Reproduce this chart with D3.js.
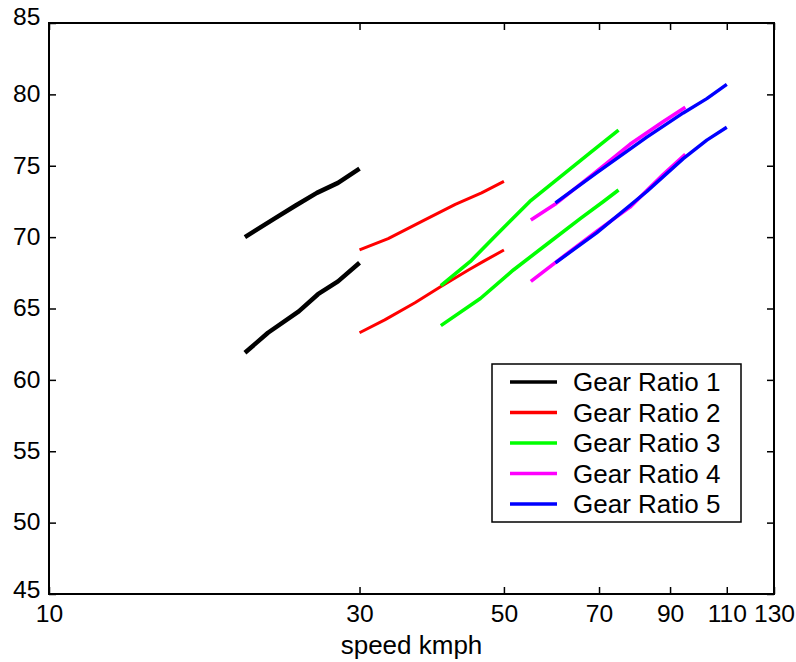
<!DOCTYPE html>
<html>
<head>
<meta charset="utf-8">
<script src="https://cdn.jsdelivr.net/npm/d3@7"></script>
<style>
  html, body { margin: 0; padding: 0; background: #fff; }
  svg { display: block; font-family: "Liberation Sans", Arial, Helvetica, sans-serif; }
</style>
</head>
<body>
<svg id="chart" width="796" height="662"></svg>
<script>
// Sound level vs. vehicle speed, two traces per gear ratio (speed kmph, level)
const gear1Upper = [[20,70.0],[22.2,71.3],[23.9,72.2],[25.8,73.1],[27.8,73.8],[30,74.8]];
const gear1Lower = [[20,61.9],[21.7,63.3],[24.2,64.8],[25.9,66.0],[27.8,66.9],[30,68.2]];
const gear2Upper = [[30,69.1],[33.2,69.9],[37.4,71.1],[42.1,72.3],[46.2,73.1],[50,73.9]];
const gear2Lower = [[30,63.3],[32.8,64.2],[36.5,65.4],[39.9,66.5],[44.1,67.7],[46.5,68.3],[50,69.1]];
const gear3Upper = [[40,66.6],[44.4,68.3],[48.8,70.2],[54.8,72.5],[61.7,74.4],[67.8,75.9],[75,77.5]];
const gear3Lower = [[40,63.8],[46,65.7],[51.7,67.7],[58.2,69.5],[65.5,71.3],[71.1,72.5],[75,73.3]];
const gear4Upper = [[55,71.2],[59.9,72.3],[69.4,74.6],[78.1,76.5],[87.9,78.1],[95,79.1]];
const gear4Lower = [[55,66.9],[59.9,68.2],[69.4,70.4],[78.1,72.1],[87.9,74.4],[95,75.8]];
const gear5Upper = [[60,72.4],[69.4,74.5],[82.9,77.0],[94.3,78.7],[102.5,79.7],[110,80.7]];
const gear5Lower = [[60,68.2],[69.4,70.3],[82.9,73.2],[94.3,75.5],[102.5,76.8],[110,77.7]];

const seriesNames = ["Gear Ratio 1","Gear Ratio 2","Gear Ratio 3","Gear Ratio 4","Gear Ratio 5"];
const seriesColors = ["#000000","#ff0000","#00ff00","#ff00ff","#0000ff"];
const seriesWidths = [4.5, 3, 3.6, 3.6, 3.4];
const seriesTraces = [
  [gear1Upper, gear1Lower],
  [gear2Upper, gear2Lower],
  [gear3Upper, gear3Lower],
  [gear4Upper, gear4Lower],
  [gear5Upper, gear5Lower]
];

const xTicks = [10, 30, 50, 70, 90, 110, 130];
const yTicks = [45, 50, 55, 60, 65, 70, 75, 80, 85];
const xLabel = "speed kmph";

const margin = {left: 49, top: 23, right: 22, bottom: 68};
const W = 796, H = 662;
const iw = W - margin.left - margin.right;
const ih = H - margin.top - margin.bottom;

const svg = d3.select("#chart");
const g = svg.append("g").attr("transform", `translate(${margin.left},${margin.top})`);

const x = d3.scaleLog().domain([10, 130]).range([0, iw]);
const y = d3.scaleLinear().domain([45, 85]).range([ih, 0]);

const tickLen = 7;
const tickFont = "23px";

function styleAxis(sel) {
  sel.select(".domain").remove();
  sel.selectAll(".tick line").attr("stroke", "#000").attr("stroke-width", 1.5);
  sel.selectAll(".tick text")
    .attr("fill", "#000")
    .style("font-size", tickFont)
    .attr("transform", "scale(1.07,1)");
}

// bottom axis with labels
g.append("g").attr("transform", `translate(0,${ih})`)
  .call(d3.axisBottom(x).tickValues(xTicks).tickFormat(d3.format("d"))
        .tickSizeInner(-tickLen).tickSizeOuter(0).tickPadding(12))
  .call(styleAxis);

// left axis with labels
const yAx = g.append("g")
  .call(d3.axisLeft(y).tickValues(yTicks).tickFormat(d3.format("d"))
        .tickSizeInner(-tickLen).tickSizeOuter(0).tickPadding(8))
  .call(styleAxis);
yAx.selectAll(".tick text").filter(d => d === 85).attr("dy", "0.05em");
yAx.selectAll(".tick text").filter(d => d === 45).attr("dy", "0.15em");

// top and right tick marks (no labels)
g.append("g")
  .call(d3.axisTop(x).tickValues(xTicks).tickFormat("").tickSizeInner(-tickLen).tickSizeOuter(0))
  .call(styleAxis);
g.append("g").attr("transform", `translate(${iw},0)`)
  .call(d3.axisRight(y).tickValues(yTicks).tickFormat("").tickSizeInner(-tickLen).tickSizeOuter(0))
  .call(styleAxis);

// frame
g.append("rect").attr("x", 0).attr("y", 0).attr("width", iw).attr("height", ih)
  .attr("fill", "none").attr("stroke", "#000").attr("stroke-width", 2);

// traces
const line = d3.line().x(d => x(d[0])).y(d => y(d[1]));
seriesTraces.forEach((traces, i) => {
  traces.forEach(tr => {
    g.append("path").datum(tr)
      .attr("d", line)
      .attr("fill", "none")
      .attr("stroke", seriesColors[i])
      .attr("stroke-width", seriesWidths[i])
      .attr("stroke-linejoin", "round");
  });
});

// x axis label
svg.append("text")
  .attr("x", margin.left + iw / 2)
  .attr("y", 654)
  .attr("text-anchor", "middle")
  .style("font-size", "26px")
  .attr("fill", "#000")
  .text(xLabel);

// legend
const lg = svg.append("g").attr("transform", "translate(492,364)");
lg.append("rect").attr("x", 0).attr("y", 0).attr("width", 249).attr("height", 158)
  .attr("fill", "#fff").attr("stroke", "#000").attr("stroke-width", 1.5);
seriesNames.forEach((name, i) => {
  const ry = 18 + i * 30.5;
  lg.append("line").attr("x1", 18).attr("x2", 65).attr("y1", ry).attr("y2", ry)
    .attr("stroke", seriesColors[i]).attr("stroke-width", 3.5);
  lg.append("text").attr("x", 81).attr("y", ry).attr("dy", "0.36em")
    .style("font-size", "26px").attr("fill", "#000").text(name);
});
</script>
</body>
</html>
